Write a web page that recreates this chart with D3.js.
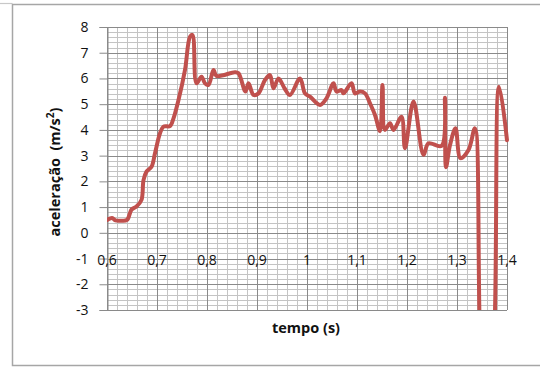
<!DOCTYPE html>
<html>
<head>
<meta charset="utf-8">
<script src="https://cdn.jsdelivr.net/npm/d3@7"></script>
<style>
  html, body { margin: 0; padding: 0; background: #fff; }
  svg { display: block; }
  text { font-family: "Open Sans", "Liberation Sans", sans-serif; }
</style>
</head>
<body>
<svg id="chart" width="540" height="367"></svg>
<script>
// ---- data ----
const tempo = [0.600,0.610,0.617,0.628,0.640,0.649,0.659,0.669,0.673,0.679,0.689,0.696,0.706,0.713,0.726,0.733,0.743,0.756,0.766,0.771,0.779,0.789,0.796,0.803,0.813,0.819,0.856,0.863,0.877,0.883,0.893,0.903,0.916,0.926,0.933,0.943,0.955,0.966,0.986,0.996,1.006,1.026,1.039,1.053,1.059,1.069,1.073,1.089,1.096,1.106,1.116,1.126,1.136,1.146,1.151,1.156,1.166,1.173,1.189,1.196,1.213,1.233,1.243,1.269,1.276,1.278,1.286,1.297,1.307,1.323,1.336,1.356,1.364,1.384,1.400];
const aceleracao = [0.50,0.58,0.48,0.47,0.50,0.90,1.02,1.28,2.05,2.38,2.57,3.09,3.87,4.13,4.15,4.45,5.16,6.33,7.62,7.69,5.81,6.07,5.81,5.75,6.33,6.10,6.24,6.20,5.49,5.81,5.36,5.42,5.94,6.13,5.62,6.00,5.62,5.36,6.00,5.42,5.29,4.97,5.23,5.81,5.49,5.55,5.42,5.81,5.42,5.49,5.42,5.03,4.58,3.95,5.75,4.00,4.26,4.00,4.51,3.29,5.10,3.03,3.48,3.38,5.25,2.55,3.41,4.06,2.90,3.22,4.06,-6,-6,5.68,3.60];
const xTickValues = [0.6,0.7,0.8,0.9,1.0,1.1,1.2,1.3,1.4];
const xTickLabels = ["0,6","0,7","0,8","0,9","1","1,1","1,2","1,3","1,4"];
const yTickValues = [8,7,6,5,4,3,2,1,0,-1,-2,-3];
const yTickLabels = ["8","7","6","5","4","3","2","1","0","-1","-2","-3"];
const xTitle = "tempo (s)";

// ---- drawing ----
const svg = d3.select("#chart");
const L = 107, R = 507, T = 27, B = 310;
const x = d3.scaleLinear().domain([0.6, 1.4]).range([L, R]);
const y = d3.scaleLinear().domain([-3, 8]).range([B, T]);

// outer frame
svg.append("line").attr("x1", 0).attr("x2", 12.5).attr("y1", 3.5).attr("y2", 3.5)
  .attr("stroke", "#c8c8c8").attr("stroke-width", 1.2);
svg.append("rect").attr("x", 12.5).attr("y", 4.5).attr("width", 540).attr("height", 361)
  .attr("fill", "none").attr("stroke", "#a6a6a6").attr("stroke-width", 1.5);

const g = svg.append("g");

// minor grid
const minorX = d3.range(0, 41).map(i => 0.6 + i * 0.02);
const minorY = d3.range(0, 56).map(i => -3 + i * 0.2);
g.selectAll(".mx").data(minorX).enter().append("line")
  .attr("x1", d => Math.round(x(d)) + 0.5).attr("x2", d => Math.round(x(d)) + 0.5)
  .attr("y1", T).attr("y2", B).attr("stroke", "#c4c4c4").attr("stroke-width", 1);
g.selectAll(".my").data(minorY).enter().append("line")
  .attr("y1", d => Math.round(y(d)) + 0.5).attr("y2", d => Math.round(y(d)) + 0.5)
  .attr("x1", L).attr("x2", R).attr("stroke", "#c4c4c4").attr("stroke-width", 1);
// major grid
g.selectAll(".Mx").data(xTickValues).enter().append("line")
  .attr("x1", d => Math.round(x(d)) + 0.5).attr("x2", d => Math.round(x(d)) + 0.5)
  .attr("y1", T).attr("y2", B).attr("stroke", "#8a8a8a").attr("stroke-width", 1);
g.selectAll(".My").data(yTickValues).enter().append("line")
  .attr("y1", d => Math.round(y(d)) + 0.5).attr("y2", d => Math.round(y(d)) + 0.5)
  .attr("x1", L).attr("x2", R).attr("stroke", "#8a8a8a").attr("stroke-width", 1);

// y axis ticks + labels
const yAxis = d3.axisLeft(y).tickValues(yTickValues).tickSize(8)
  .tickFormat((d, i) => yTickLabels[i]);
const ya = svg.append("g").attr("transform", `translate(${L + 0.5},0)`).call(yAxis);
ya.select(".domain").attr("stroke", "#8a8a8a");
ya.selectAll(".tick line").attr("stroke", "#8a8a8a");
ya.selectAll(".tick text").attr("x", -19).attr("font-size", 14)
  .attr("font-family", "Open Sans").attr("fill", "#111");

// x tick labels (sit near y = -1)
svg.append("g").selectAll("text").data(xTickValues).enter().append("text")
  .attr("x", d => x(d)).attr("y", y(-1) + 6)
  .attr("text-anchor", "middle").attr("font-size", 14).attr("fill", "#111")
  .text((d, i) => xTickLabels[i]);

// data line
svg.append("clipPath").attr("id", "clip").append("rect")
  .attr("x", L).attr("y", T - 5).attr("width", R - L + 5).attr("height", B - T + 5);
const pts = tempo.map((t, i) => [t, aceleracao[i]]);
const line = d3.line().x(d => x(d[0])).y(d => y(d[1])).curve(d3.curveCatmullRom.alpha(0.5));
svg.append("path").attr("clip-path", "url(#clip)").attr("d", line(pts))
  .attr("fill", "none").attr("stroke", "#C0504D").attr("stroke-width", 4)
  .attr("stroke-linejoin", "round").attr("stroke-linecap", "round");

// axis titles
svg.append("text").attr("x", 306).attr("y", 333).attr("text-anchor", "middle")
  .attr("font-size", 14.5).attr("font-weight", "bold").attr("fill", "#111").text(xTitle);
const yt = svg.append("text").attr("transform", "translate(60,172) rotate(-90)")
  .attr("text-anchor", "middle").attr("font-size", 14.5).attr("font-weight", "bold").attr("fill", "#111");
yt.append("tspan").text("aceleração\u00a0\u00a0(m/s");
yt.append("tspan").attr("font-size", 10).attr("dy", -6).text("2");
yt.append("tspan").attr("dy", 6).text(")");
</script>
</body>
</html>
